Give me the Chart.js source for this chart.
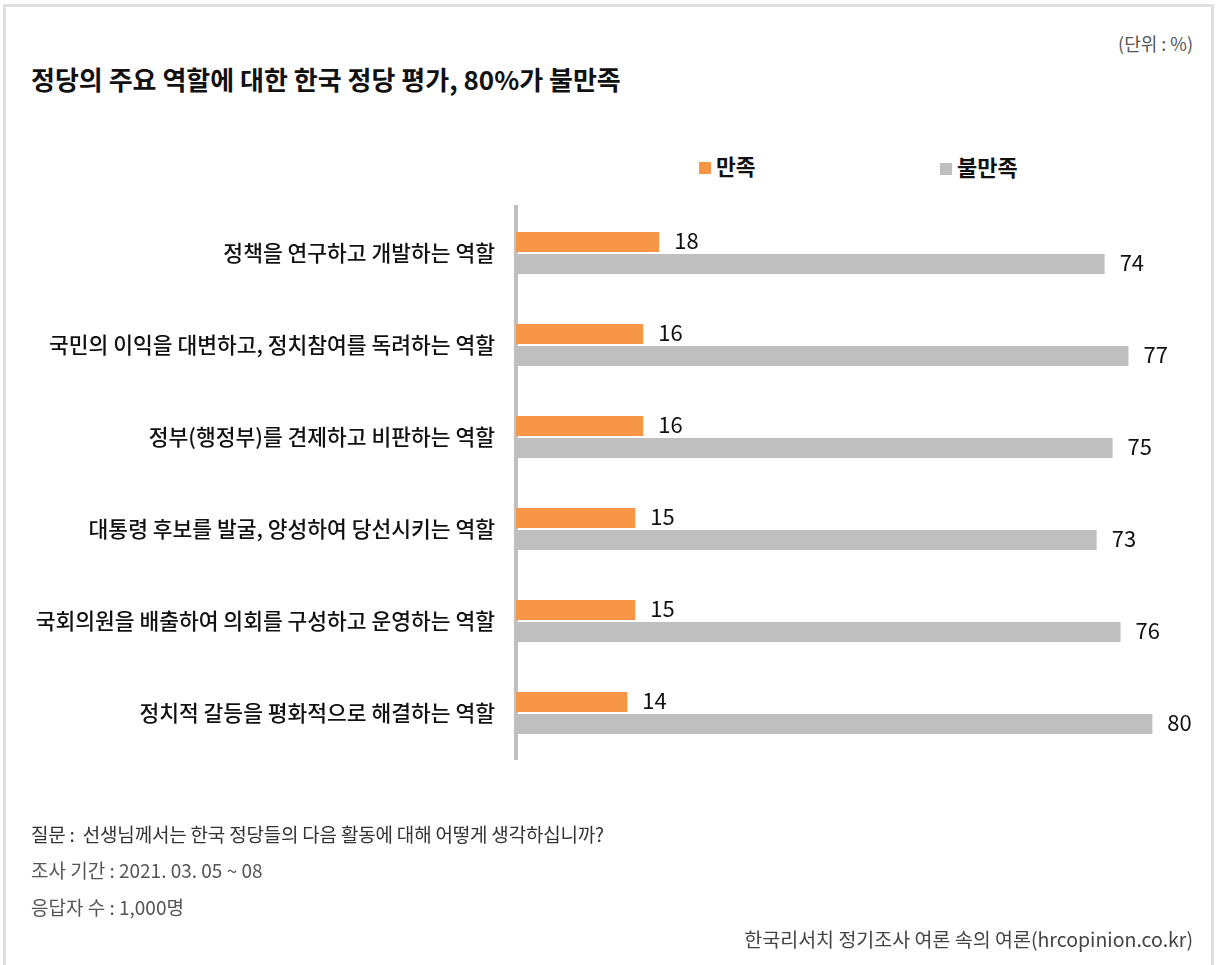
<!DOCTYPE html>
<html>
<head>
<meta charset="utf-8">
<script src="https://cdn.jsdelivr.net/npm/chart.js@4"></script>
<style>
  html, body { margin:0; padding:0; background:#fff; }
  body { width:1221px; height:965px; position:relative; overflow:hidden; font-family:"Noto Sans CJK KR","Noto Sans",sans-serif; }
  .frame { position:absolute; left:3px; top:4px; width:1211px; height:975px; border:3px solid #e0e0e0; box-sizing:border-box; }
  .t { position:absolute; white-space:nowrap; line-height:1; }
  #title { left:31px; top:66px; font-size:26px; font-weight:700; color:#111; letter-spacing:0px; }
  #unit { right:28px; top:34px; font-size:18px; color:#555; }
  .note { left:31px; font-size:19px; color:#555; }
  #q { top:824px; color:#333; letter-spacing:-0.2px; }
  #period { top:860px; }
  #resp { top:897px; }
  #source { right:28px; top:929px; font-size:19.5px; color:#444; }
  .leg { position:absolute; top:155px; font-weight:700; color:#111; white-space:nowrap; line-height:1; }
  .leg i { display:inline-block; width:12px; height:12px; margin-right:5px; vertical-align:1px; }
  #leg0 { font-size:21.5px; }
  #leg1 { font-size:22px; }
  #chartWrap { position:absolute; left:0; top:0; width:1221px; height:965px; }
</style>
</head>
<body>
<div class="frame"></div>
<div class="t" id="title">정당의 주요 역할에 대한 한국 정당 평가, 80%가 불만족</div>
<div class="t" id="unit">(단위 : %)</div>
<div class="leg" id="leg0" style="left:699px"></div>
<div class="leg" id="leg1" style="left:940px"></div>
<div id="chartWrap"><canvas id="c" width="1221" height="965"></canvas></div>
<div class="t note" id="q">질문 :&nbsp;&nbsp;선생님께서는 한국 정당들의 다음 활동에 대해 어떻게 생각하십니까?</div>
<div class="t note" id="period">조사 기간 : 2021. 03. 05 ~ 08</div>
<div class="t note" id="resp">응답자 수 : 1,000명</div>
<div class="t" id="source">한국리서치 정기조사 여론 속의 여론(hrcopinion.co.kr)</div>
<script>
const categories = [
  "정책을 연구하고 개발하는 역할",
  "국민의 이익을 대변하고, 정치참여를 독려하는 역할",
  "정부(행정부)를 견제하고 비판하는 역할",
  "대통령 후보를 발굴, 양성하여 당선시키는 역할",
  "국회의원을 배출하여 의회를 구성하고 운영하는 역할",
  "정치적 갈등을 평화적으로 해결하는 역할"
];
const seriesNames = ["만족", "불만족"];
const satisfied = [18, 16, 16, 15, 15, 14];
const dissatisfied = [74, 77, 75, 73, 76, 80];
const seriesColors = ["#f79646", "#bfbfbf"];

// HTML legend from series names
seriesNames.forEach((n, i) => {
  const el = document.getElementById("leg" + i);
  el.innerHTML = '<i style="background:' + seriesColors[i] + '"></i>' + n;
});

const valueLabels = {
  id: "valueLabels",
  afterDatasetsDraw(chart) {
    const ctx = chart.ctx;
    ctx.save();
    ctx.font = '400 22px "Noto Sans CJK KR", "Noto Sans", sans-serif';
    ctx.fillStyle = "#111";
    ctx.textAlign = "left";
    ctx.textBaseline = "middle";
    chart.data.datasets.forEach((ds, di) => {
      chart.getDatasetMeta(di).data.forEach((bar, i) => {
        ctx.fillText(String(ds.data[i]), bar.x + 15, bar.y - 1);
      });
    });
    ctx.restore();
  }
};

new Chart(document.getElementById("c"), {
  type: "bar",
  data: {
    labels: categories,
    datasets: [
      { label: seriesNames[0], data: satisfied, backgroundColor: seriesColors[0], barPercentage: 0.9, categoryPercentage: 0.48 },
      { label: seriesNames[1], data: dissatisfied, backgroundColor: seriesColors[1], barPercentage: 0.9, categoryPercentage: 0.48 }
    ]
  },
  options: {
    indexAxis: "y",
    responsive: false,
    animation: false,
    devicePixelRatio: 1,
    layout: { padding: { top: 207, bottom: 206, left: 0, right: 5 } },
    plugins: { legend: { display: false }, tooltip: { enabled: false } },
    scales: {
      x: { display: false, min: 0, max: 88 },
      y: {
        afterFit(scale) { scale.width = 516; },
        grid: { display: false, drawTicks: false },
        border: { display: true, color: "#c0c0c0", width: 4 },
        ticks: {
          padding: 21,
          color: "#111",
          font: { family: '"Noto Sans CJK KR", "Noto Sans", sans-serif', size: 21.5, weight: "500" }
        }
      }
    }
  },
  plugins: [valueLabels]
});
</script>
</body>
</html>
